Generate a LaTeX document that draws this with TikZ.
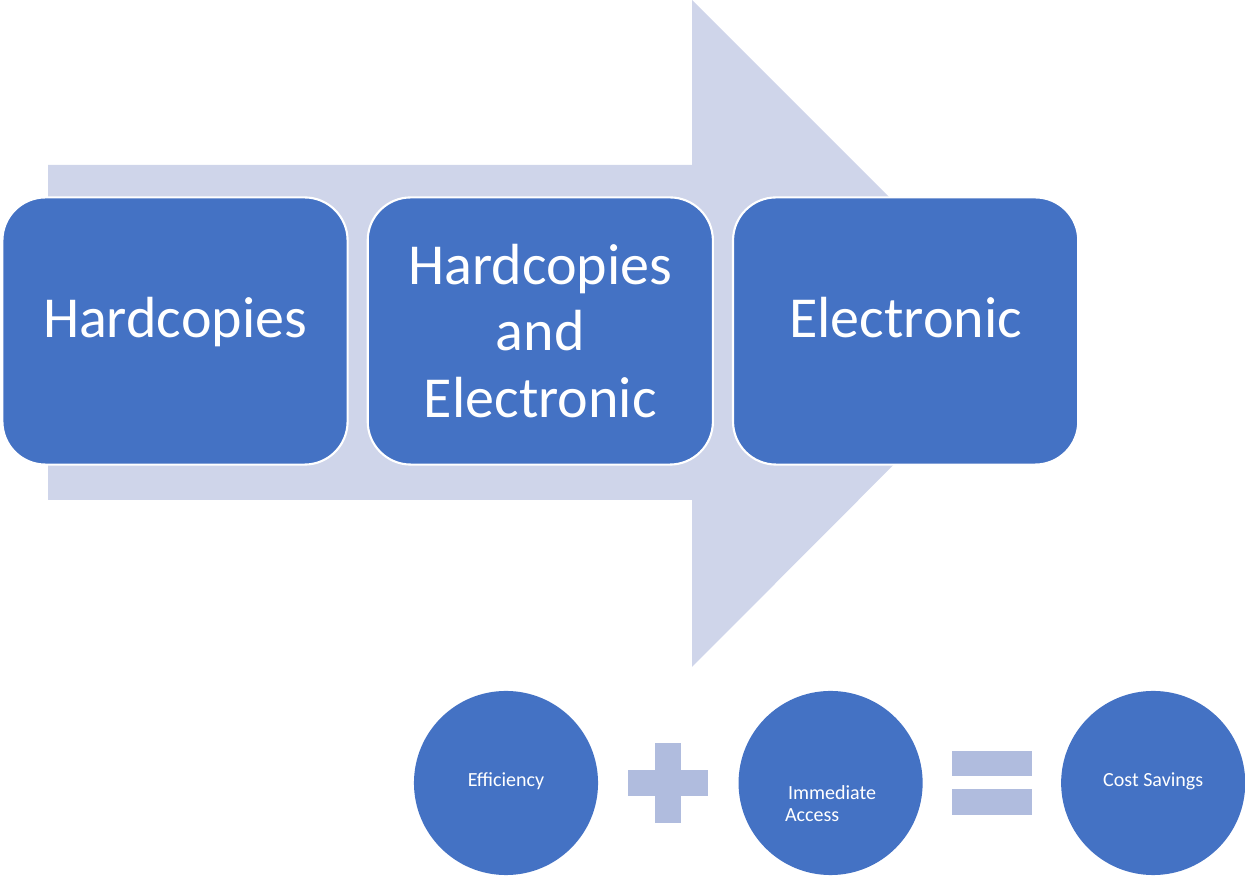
\documentclass[tikz,border=0pt]{standalone}
\usepackage{fontspec}
\setmainfont{Carlito}
\usetikzlibrary{positioning}
\definecolor{boxblue}{HTML}{4472C4}
\definecolor{arrowgrey}{HTML}{CFD5EA}
\definecolor{signblue}{HTML}{B0BCDE}
\newcommand{\lowered}[2]{\raisebox{-#1}[0pt][0pt]{#2}}

\begin{document}
\begin{tikzpicture}[x=0.01cm,y=-0.01cm,node distance=0.18cm,
    font=\fontsize{16.5}{19}\selectfont]
\tikzstyle{stage}=[draw=white,line width=0.6pt,fill=boxblue,text=white,rounded corners=0.43cm,
    minimum width=3.45cm,minimum height=2.67cm,align=center]
\tikzstyle{result}=[circle,fill=boxblue,text=white,minimum size=1.84cm,inner sep=0pt,
    font=\fontsize{5.7}{6.3}\selectfont]
\tikzstyle{sign}=[fill=signblue,draw=none]
\useasboundingbox (0,0) rectangle (1245,877);

% background arrow
\fill[arrowgrey] (48,165) -- (692,165) -- (692,0) -- (1025,333)
    -- (692,667) -- (692,500) -- (48,500) -- cycle;

\node[stage] (H) at (175,331) {\lowered{0.07cm}{Hardcopies}};
\node[stage] (HE) [right=of H] {Hardcopies\\and\\Electronic};
\node[stage] (E) [right=of HE] {\lowered{0.07cm}{Electronic}};

\node[result] (Ef) at (506,783) {\lowered{0.04cm}{Efficiency}};
\node[result] (IA) [right=1.39cm of Ef]
    {\lowered{0.16cm}{\begin{tabular}[t]{@{}l@{}}\hspace{0.03cm}Immediate\\Access\end{tabular}}};
\node[result] (CS) [right=1.37cm of IA] {\lowered{0.04cm}{Cost Savings}};

\path (Ef) -- (IA) coordinate[pos=0.5] (plus)
      (IA) -- (CS) coordinate[pos=0.5] (eq);
\begin{scope}[shift={(plus)}]
  \fill[sign] (-40,-13) rectangle (40,13);
  \fill[sign] (-13,-40) rectangle (13,40);
\end{scope}
\begin{scope}[shift={(eq)}]
  \fill[sign] (-40,-32) rectangle (40,-7);
  \fill[sign] (-40,6) rectangle (40,32);
\end{scope}
\end{tikzpicture}
\end{document}
